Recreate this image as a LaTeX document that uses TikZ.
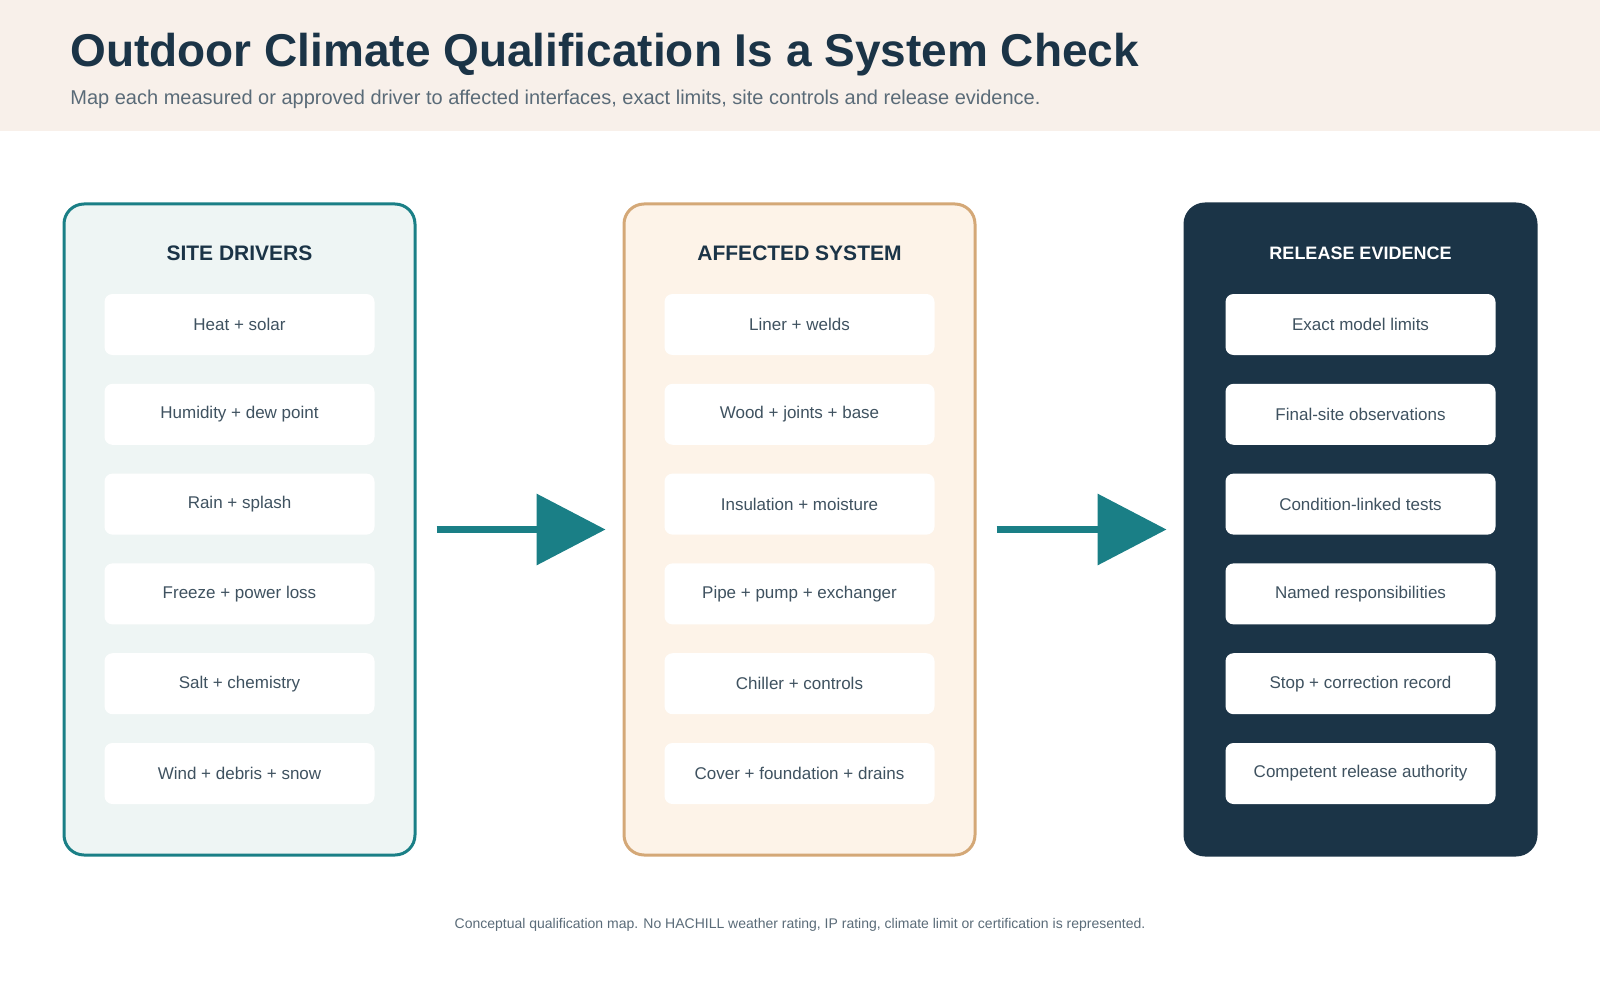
\documentclass[tikz,border=0pt]{standalone}
\usepackage{fontspec}
\setmainfont{Liberation Sans}
\usetikzlibrary{arrows.meta,positioning}
\definecolor{navy}{HTML}{1B3447}
\definecolor{teal}{HTML}{1A7F86}
\definecolor{sand}{HTML}{D4A877}
\definecolor{sandfill}{HTML}{FDF3E8}
\definecolor{tealfill}{HTML}{EEF5F4}
\definecolor{headfill}{HTML}{F8F0EA}
\definecolor{boxtext}{HTML}{3F5260}
\definecolor{subgray}{HTML}{5A6B78}
\tikzset{
    % Panel styles
    panel/.style={
        rectangle,
        rounded corners=10pt,
        line width=1.5pt,
        minimum width=175.5pt,
        minimum height=325.5pt,
        inner sep=0pt
    },
    panel title/.style={
        font=\bfseries\fontsize{10.5}{12}\selectfont,
        text=navy
    },
    % Item box
    item box/.style={
        rectangle,
        fill=white,
        rounded corners=4pt,
        minimum width=135pt,
        minimum height=30.5pt,
        inner sep=0pt,
        font=\fontsize{8.5}{10}\selectfont,
        text=boxtext
    },
    % Arrow style
    flow arrow/.style={
        -{Triangle[length=34.5pt,width=35pt]},
        line width=3.5pt,
        teal,
        shorten <=10pt,
        shorten >=8.5pt
    }
}
\begin{document}
\begin{tikzpicture}[x=0.5pt,y=-0.5pt]
        \useasboundingbox (0,0) rectangle (1600,1000);
        % Header
        \fill[headfill] (0,0) rectangle (1600,131);
        \node[anchor=base west, inner sep=0pt, font=\bfseries\fontsize{23}{27}\selectfont, text=navy] (title) at (70,67) {Outdoor Climate Qualification Is a System Check};
        \node[anchor=base west, inner sep=0pt, font=\fontsize{10}{12}\selectfont, text=subgray] (subtitle) at (70,105) {Map each measured or approved driver to affected interfaces, exact limits, site controls and release evidence.};

        % Panels
        \node[panel, draw=teal, fill=tealfill] (drivers) at (239.5,529.5) {};
        \node[panel, draw=sand, fill=sandfill] (system) at (799.5,529.5) {};
        \node[panel, draw=navy, fill=navy] (evidence) at (1360.5,529.5) {};

        \node[panel title] (drivers title) at (239.5,253) {SITE DRIVERS};
        \node[panel title] (system title) at (799.5,253) {AFFECTED SYSTEM};
        \node[panel title, text=white, font=\bfseries\fontsize{9}{11}\selectfont] (evidence title) at (1360.5,253) {RELEASE EVIDENCE};

        % Items
        \foreach \col/\x/\list in {
            d/239.5/{Heat + solar,Humidity + dew point,Rain + splash,Freeze + power loss,Salt + chemistry,Wind + debris + snow},
            s/799.5/{Liner + welds,Wood + joints + base,Insulation + moisture,Pipe + pump + exchanger,Chiller + controls,Cover + foundation + drains},
            e/1360.5/{Exact model limits,Final-site observations,Condition-linked tests,Named responsibilities,Stop + correction record,Competent release authority}}{
            \foreach \txt [count=\i] in \list {
                \node[item box] (\col\i) at (\x,{324.5+(\i-1)*89.8}) {\txt};
            }
        }

        % Arrows
        \draw[flow arrow] (drivers) -- (system);
        \draw[flow arrow] (system) -- (evidence);

        % Footer
        \node[font=\fontsize{7}{9}\selectfont, text=subgray] (note) at (800,925) {Conceptual qualification map. No HACHILL weather rating, IP rating, climate limit or certification is represented.};
    \end{tikzpicture}
\end{document}
